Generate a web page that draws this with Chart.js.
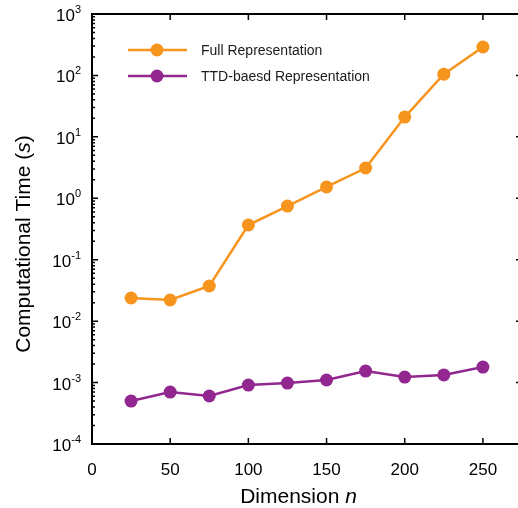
<!DOCTYPE html>
<html>
<head>
<meta charset="utf-8">
<script src="https://cdn.jsdelivr.net/npm/chart.js@4.4.0/dist/chart.umd.min.js"></script>
<style>
html, body { margin: 0; padding: 0; background: #fff; overflow: hidden; }
#wrap { width: 518px; height: 508px; overflow: hidden; }
canvas { display: block; }
</style>
</head>
<body>
<div id="wrap"><canvas id="Chart1" width="524" height="508"></canvas></div>
<script>
// data
var dims = [25, 50, 75, 100, 125, 150, 175, 200, 225, 250];
var fullTime = [0.0238, 0.0221, 0.0373, 0.367, 0.748, 1.53, 3.11, 21.0, 105, 290];
var ttdTime = [0.00050, 0.00070, 0.000605, 0.00091, 0.00098, 0.00110, 0.00154, 0.00123, 0.00133, 0.00179];
var xTicks = [0, 50, 100, 150, 200, 250];
var yExponents = [-4, -3, -2, -1, 0, 1, 2, 3];
var seriesNames = ['Full Representation', 'TTD-baesd Representation'];
var seriesColors = ['#F7941D', '#92278F'];

var FONT = '"Liberation Sans", Arial, sans-serif';

function toPoints(xs, ys) {
    var pts = [];
    for (var i = 0; i < xs.length; i++) pts.push({ x: xs[i], y: ys[i] });
    return pts;
}

// axes frame, inward ticks, labels, titles and legend
var framePlugin = {
    id: 'frame',
    afterDraw: function (chart) {
        var ctx = chart.ctx;
        var a = chart.chartArea;
        var xs = chart.scales.x;
        var ys = chart.scales.y;
        ctx.save();
        ctx.strokeStyle = '#000';
        ctx.fillStyle = '#000';
        ctx.lineWidth = 2;
        ctx.strokeRect(a.left, a.top, a.right - a.left, a.bottom - a.top);

        ctx.lineWidth = 1.5;
        // x ticks
        ctx.font = '17px ' + FONT;
        ctx.textAlign = 'center';
        ctx.textBaseline = 'alphabetic';
        xTicks.forEach(function (v) {
            var px = xs.getPixelForValue(v);
            ctx.beginPath();
            ctx.moveTo(px, a.bottom); ctx.lineTo(px, a.bottom - 6);
            ctx.moveTo(px, a.top); ctx.lineTo(px, a.top + 6);
            ctx.stroke();
            ctx.fillText(String(v), px, a.bottom + 31);
        });

        // y ticks (log)
        yExponents.forEach(function (e, idx) {
            var py = ys.getPixelForValue(Math.pow(10, e));
            ctx.beginPath();
            ctx.moveTo(a.left, py); ctx.lineTo(a.left + 6, py);
            ctx.moveTo(a.right, py); ctx.lineTo(a.right - 6, py);
            ctx.stroke();
            if (idx < yExponents.length - 1) {
                for (var m = 2; m < 10; m++) {
                    var pm = ys.getPixelForValue(m * Math.pow(10, e));
                    ctx.beginPath();
                    ctx.moveTo(a.left, pm); ctx.lineTo(a.left + 3, pm);
                    ctx.moveTo(a.right, pm); ctx.lineTo(a.right - 3, pm);
                    ctx.stroke();
                }
            }
            // label 10^e
            var sup = String(e);
            ctx.font = '11px ' + FONT;
            var supW = ctx.measureText(sup).width;
            ctx.textAlign = 'right';
            ctx.textBaseline = 'alphabetic';
            var right = a.left - 11;
            ctx.fillText(sup, right, py - 1);
            ctx.font = '17px ' + FONT;
            ctx.fillText('10', right - supW, py + 7);
        });

        // x title
        ctx.textAlign = 'left';
        var t1 = 'Dimension ';
        ctx.font = 'italic 21px ' + FONT;
        var wn = ctx.measureText('n').width;
        ctx.font = '21px ' + FONT;
        var w1 = ctx.measureText(t1).width;
        var sx = 298.5 - (w1 + wn) / 2;
        ctx.fillText(t1, sx, 503);
        ctx.font = 'italic 21px ' + FONT;
        ctx.fillText('n', sx + w1, 503);

        // y title
        ctx.translate(30, 244);
        ctx.rotate(-Math.PI / 2);
        var p1 = 'Computational Time (';
        var p2 = 's';
        var p3 = ')';
        ctx.font = '21px ' + FONT;
        var q1 = ctx.measureText(p1).width;
        var q3 = ctx.measureText(p3).width;
        ctx.font = 'italic 21px ' + FONT;
        var q2 = ctx.measureText(p2).width;
        var st = -(q1 + q2 + q3) / 2;
        ctx.font = '21px ' + FONT;
        ctx.fillText(p1, st, 0);
        ctx.font = 'italic 21px ' + FONT;
        ctx.fillText(p2, st + q1, 0);
        ctx.font = '21px ' + FONT;
        ctx.fillText(p3, st + q1 + q2, 0);
        ctx.restore();

        // legend
        ctx.save();
        ctx.font = '14px ' + FONT;
        ctx.textAlign = 'left';
        ctx.textBaseline = 'middle';
        var ly = [50, 76];
        for (var i = 0; i < seriesNames.length; i++) {
            ctx.strokeStyle = seriesColors[i];
            ctx.fillStyle = seriesColors[i];
            ctx.lineWidth = 2.5;
            ctx.beginPath();
            ctx.moveTo(128, ly[i]); ctx.lineTo(187, ly[i]);
            ctx.stroke();
            ctx.beginPath();
            ctx.arc(157, ly[i], 6.5, 0, Math.PI * 2);
            ctx.fill();
            ctx.fillStyle = '#1a1a1a';
            ctx.fillText(seriesNames[i], 201, ly[i] + 1);
        }
        ctx.restore();
    }
};

var ctx = document.getElementById('Chart1').getContext('2d');
var Chart1 = new Chart(ctx, {
    type: 'line',
    data: {
        datasets: [{
            label: seriesNames[0],
            data: toPoints(dims, fullTime),
            borderColor: seriesColors[0],
            backgroundColor: seriesColors[0],
            borderWidth: 2.5,
            pointRadius: 6.5,
            pointBorderWidth: 0,
            tension: 0
        }, {
            label: seriesNames[1],
            data: toPoints(dims, ttdTime),
            borderColor: seriesColors[1],
            backgroundColor: seriesColors[1],
            borderWidth: 2.5,
            pointRadius: 6.5,
            pointBorderWidth: 0,
            tension: 0
        }]
    },
    options: {
        responsive: false,
        animation: false,
        layout: { autoPadding: false, padding: { left: 92, top: 14, right: 2, bottom: 64 } },
        plugins: { legend: { display: false }, tooltip: { enabled: false } },
        scales: {
            x: { type: 'linear', min: 0, max: 275, display: false },
            y: { type: 'logarithmic', min: 1e-4, max: 1e3, display: false }
        }
    },
    plugins: [framePlugin]
});
</script>
</body>
</html>
